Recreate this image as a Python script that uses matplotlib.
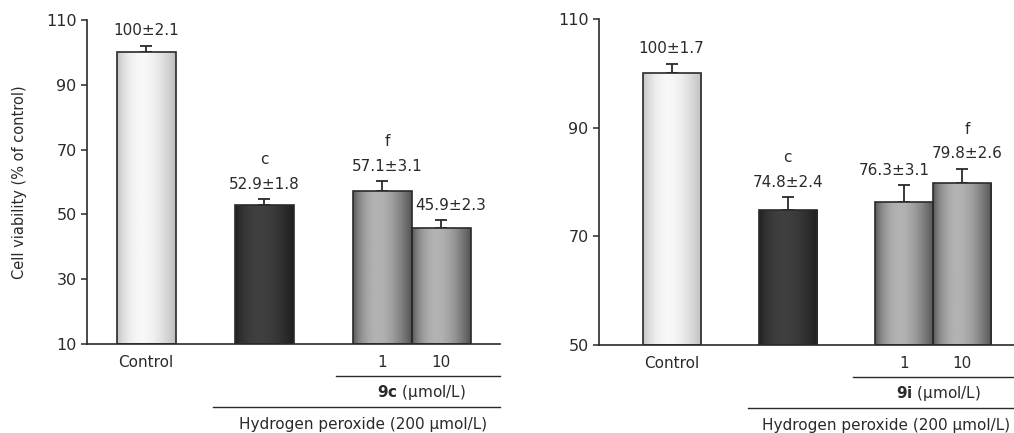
import numpy as np
import matplotlib
matplotlib.use('Agg')
import matplotlib.pyplot as plt
from matplotlib.transforms import ScaledTranslation

# datos de los dos paneles
pos = [1, 3, 5, 6]
cat_labels = ['Control', '', '1', '10']
mean_9c = [100, 52.9, 57.1, 45.9]
err_9c = [2.1, 1.8, 3.1, 2.3]
sig_9c = ['', 'c', 'f', '']
mean_9i = [100, 74.8, 76.3, 79.8]
err_9i = [1.7, 2.4, 3.1, 2.6]
sig_9i = ['', 'c', '', 'f']
yticks_9c = [10, 30, 50, 70, 90, 110]
yticks_9i = [50, 70, 90, 110]

plt.rcParams['font.family'] = 'DejaVu Sans'
ink = '#2a2a2a'
# tonos de gris (borde, centro) para el degradado de cada barra
tonos = [(0.74, 0.97), (0.12, 0.25), (0.32, 0.70), (0.32, 0.70)]


def barra_degradada(ax, rect, borde, centro):
    t = np.linspace(0, 1, 200)
    perfil = np.sin(np.pi * t ** 0.8) ** 0.9
    g = borde + (centro - borde) * perfil
    x0, y0 = rect.get_x(), rect.get_y()
    im = ax.imshow(g[np.newaxis, :], cmap='gray', vmin=0, vmax=1, aspect='auto',
                   extent=[x0, x0 + rect.get_width(), y0, y0 + rect.get_height()],
                   zorder=2, interpolation='bilinear')
    im.set_clip_path(rect)


def panel(ax, medias, errores, letras, ticks, xlim, dx_lab, compuesto, x_l1, x_c1, x_l2, x_c2):
    base = ticks[0]
    bars = ax.bar(pos, np.array(medias) - base, width=1, bottom=base, color='none',
                  edgecolor=ink, linewidth=1.2, zorder=3)
    for r, (b, c) in zip(bars, tonos):
        barra_degradada(ax, r, b, c)
    ax.errorbar(pos, medias, yerr=[np.zeros(len(errores)), errores], fmt='none',
                ecolor=ink, elinewidth=1.3, capsize=4.5, capthick=1.3, zorder=1)
    ax.set_xlim(*xlim)
    ax.set_ylim(ticks[0], ticks[-1])
    ax.set_yticks(ticks)
    ax.tick_params(axis='y', labelsize=11.5, length=4, width=1.1, color=ink, labelcolor=ink)
    ax.set_xticks([])
    for s in ['top', 'right']:
        ax.spines[s].set_visible(False)
    for s in ['left', 'bottom']:
        ax.spines[s].set_linewidth(1.2)
        ax.spines[s].set_color(ink)
    # valores y letras de significancia
    for x, m, e, l, dx in zip(pos, medias, errores, letras, dx_lab):
        txt = '%g±%.1f' % (m, e)
        ax.annotate(txt, (x, m + e), xytext=(dx, 5.5), textcoords='offset points',
                    ha='center', va='bottom', fontsize=11, color=ink)
        if l:
            ax.annotate(l, (x, m + e), xytext=(dx, 23), textcoords='offset points',
                        ha='center', va='bottom', fontsize=11, color=ink)
    # etiquetas bajo el eje
    tr = ax.get_xaxis_transform()
    for x, l in zip(pos, cat_labels):
        ax.annotate(l, (x, 0), xycoords=tr, xytext=(0, -13.5), textcoords='offset points',
                    ha='center', va='center', fontsize=11, color=ink)
    for x0, dy in [(x_l1, 23), (x_l2, 45)]:
        ax.plot([x0, xlim[1]], [0, 0], color=ink, lw=1, clip_on=False,
                transform=tr + ScaledTranslation(0, -dy / 72, ax.figure.dpi_scale_trans))
    ax.annotate(compuesto, (x_c1, 0), xycoords=tr, xytext=(0, -35), textcoords='offset points',
                ha='center', va='center', fontsize=11, color=ink)
    ax.annotate('Hydrogen peroxide (200 μmol/L)', (x_c2, 0), xycoords=tr, xytext=(0, -58),
                textcoords='offset points', ha='center', va='center', fontsize=11, color=ink)


fig = plt.figure(figsize=(10.14, 4.33), dpi=100)
ax1 = fig.add_axes([87 / 1014, 89 / 433, 413 / 1014, 324 / 433])
ax2 = fig.add_axes([599 / 1014, 88 / 433, 415 / 1014, 326 / 433])

panel(ax1, mean_9c, err_9c, sig_9c, yticks_9c, (0, 7), [0, 0, 4, 7],
      r'$\mathbf{9c}$ (μmol/L)', 4.22, 5.67, 2.14, 4.68)
panel(ax2, mean_9i, err_9i, sig_9i, yticks_9i, (-0.25, 6.9), [0, 0, -7, 4],
      r'$\mathbf{9i}$ (μmol/L)', 4.13, 5.6, 2.32, 4.7)
ax1.set_ylabel('Cell viability (% of control)', fontsize=10.5, color=ink, labelpad=14)

fig.savefig('out.png', dpi=100)
